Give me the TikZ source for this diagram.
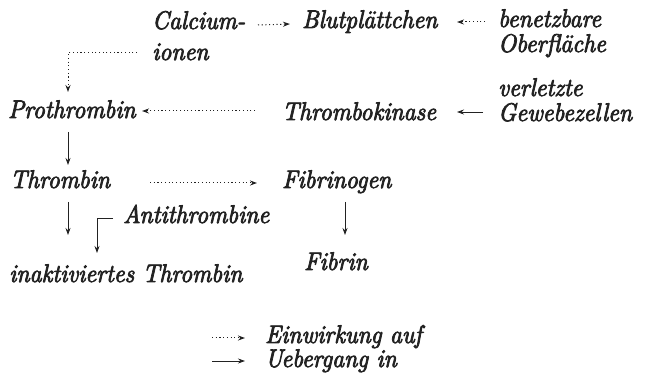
\documentclass[tikz,border=0pt]{standalone}
\usepackage{fontspec}
\usetikzlibrary{arrows.meta}
\newfontfamily\dfont{lmroman10-italic.otf}[FakeBold=3, FakeStretch=0.92]
\definecolor{ink}{HTML}{222222}
\tikzset{
  txt/.style={font=\dfont\fontsize{25.5}{30}\selectfont, text=ink, inner sep=0pt, anchor=base west},
  flow/.style={draw=ink, line width=0.85pt, -{Stealth[length=7pt,width=5pt]}},
  act/.style={flow, line width=1pt, dash pattern=on 1.1pt off 2.6pt},
}
\begin{document}
\begin{tikzpicture}[x=1pt,y=-1pt]
\useasboundingbox (0,0) rectangle (646,374);
\node[txt] (calc) at (152,29) {Calcium-};
\node[txt] (ionen) at (152,60) {ionen};
\node[txt] (blut) at (302,28) {Blutplättchen};
\node[txt] (bene) at (498,27) {benetzbare};
\node[txt] (ober) at (498,52) {Oberfläche};
\node[txt] (verl) at (498,96) {verletzte};
\node[txt] (gewe) at (498,121) {Gewebezellen};
\node[txt] (tkin) at (282,120) {Thrombokinase};
\node[txt] (prot) at (8,118) {Prothrombin};
\node[txt] (thro) at (10,188) {Thrombin};
\node[txt] (fibg) at (282,188) {Fibrinogen};
\node[txt] (anti) at (123,223) {Antithrombine};
\node[txt] (fibr) at (304,270) {Fibrin};
\node[txt] (inak) at (9,282) {inaktiviertes Thrombin};
\node[txt] (einw) at (265,343) {Einwirkung auf};
\node[txt] (ueber) at (265,367) {Uebergang in};
% legend arrow ends
\coordinate (l1a) at ([shift={(-53,-5)}]einw.base west);
\coordinate (l1b) at ([shift={(-20,-5)}]einw.base west);
\coordinate (l2a) at ([shift={(-53,-6)}]ueber.base west);
\coordinate (l2b) at ([shift={(-20,-6)}]ueber.base west);
% connectors
\draw[act] ([shift={(106,-4)}]calc.base west) -- ([shift={(-12,-4)}]blut.base west);
\draw[act] ([shift={(-13,-5)}]bene.base west) -- ([shift={(-41,-5)}]bene.base west);
\draw[flow] ([shift={(-15,-9)}]gewe.base west) -- ([shift={(-41,-9)}]gewe.base west);
\draw[act] ([shift={(-27,-9)}]tkin.base west) -- ([shift={(134,-7)}]prot.base west);
\draw[act] ([shift={(-15,-7)}]ionen.base west) -| ([shift={(60,-26)}]prot.base west);
\draw[flow] ([shift={(60,14)}]prot.base west) -- ([shift={(58,-23)}]thro.base west);
\draw[act] ([shift={(140,-5)}]thro.base west) -- ([shift={(-25,-5)}]fibg.base west);
\draw[flow] ([shift={(63,14)}]fibg.base west) -- ([shift={(41,-35)}]fibr.base west);
\draw[flow] ([shift={(58,14)}]thro.base west) -- ([shift={(59,-47)}]inak.base west);
\draw[flow] ([shift={(-10,-5)}]anti.base west) -| ([shift={(88,-29)}]inak.base west);
\draw[act] (l1a) -- (l1b);
\draw[flow] (l2a) -- (l2b);
\end{tikzpicture}
\end{document}
